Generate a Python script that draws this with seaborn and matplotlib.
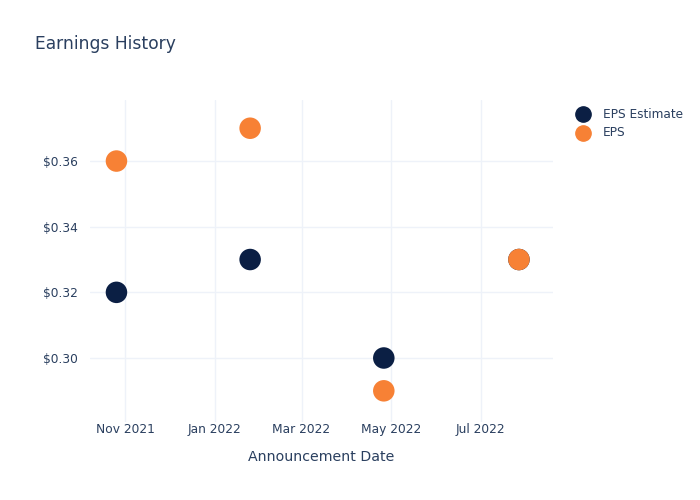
import matplotlib
matplotlib.use("Agg")
import matplotlib.pyplot as plt
import matplotlib.dates as mdates
import seaborn as sns
import pandas as pd

dates = ["2021-10-26", "2022-01-25", "2022-04-26", "2022-07-27"]
eps_estimate = [0.32, 0.33, 0.30, 0.33]
eps_actual = [0.36, 0.37, 0.29, 0.33]
series_names = ["EPS Estimate", "EPS"]
colors = ["#0b1f44", "#f78135"]

df = pd.DataFrame({
    "date": pd.to_datetime(dates * 2),
    "value": eps_estimate + eps_actual,
    "series": [series_names[0]] * 4 + [series_names[1]] * 4,
})

sns.set_style("white")
plt.rcParams["font.family"] = ["DejaVu Sans"]
text_color = "#2a3f5f"

fig = plt.figure(figsize=(7, 5), dpi=100)
ax = fig.add_axes([0.1286, 0.156, 0.661, 0.644])

sns.scatterplot(data=df, x="date", y="value", hue="series", palette=colors,
                hue_order=series_names, s=240, edgecolor="none", ax=ax, zorder=3,
                legend=False)

ax.set_xlim(pd.Timestamp("2021-10-08"), pd.Timestamp("2022-08-19"))
ax.set_ylim(0.2805, 0.3786)
ax.set_yticks([0.30, 0.32, 0.34, 0.36])
ax.set_yticklabels(["$0.30", "$0.32", "$0.34", "$0.36"])
ax.xaxis.set_major_locator(mdates.MonthLocator(bymonth=[1, 3, 5, 7, 11]))
ax.xaxis.set_major_formatter(mdates.DateFormatter("%b %Y"))
ax.grid(True, color="#eef2f9", linewidth=1)
ax.set_axisbelow(True)
for sp in ax.spines.values():
    sp.set_visible(False)
ax.tick_params(axis="both", length=0, labelsize=8.8, colors=text_color)
ax.tick_params(axis="x", pad=1)
ax.tick_params(axis="y", pad=8.6)
ax.set_xlabel("Announcement Date", fontsize=10.2, color=text_color, labelpad=10)
ax.set_ylabel("")

fig.text(35 / 700, 1 - 44 / 500, "Earnings History", fontsize=12.3, color=text_color,
         va="center", ha="left")

# legend
for i, (name, c) in enumerate(zip(series_names, colors)):
    y = 1 - (114 + i * 19) / 500
    fig.lines.append(plt.Line2D([583 / 700], [y], marker="o", markersize=11,
                                color=c, linestyle="none", transform=fig.transFigure))
    fig.text(603 / 700, y, name, fontsize=8.7, color=text_color, va="center", ha="left")

fig.savefig("out.png", dpi=100)
